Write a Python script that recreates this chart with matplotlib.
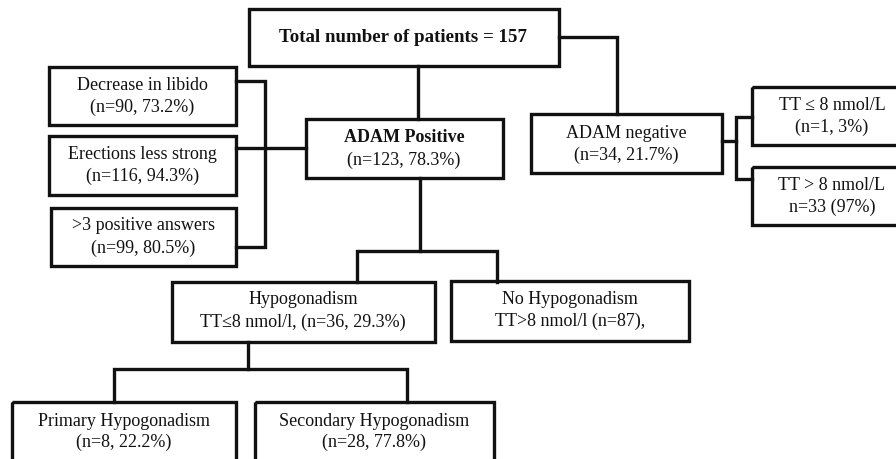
import matplotlib
matplotlib.use("Agg")
import matplotlib.pyplot as plt
from matplotlib.patches import Rectangle

plt.rcParams['font.family'] = ['Liberation Serif', 'DejaVu Serif']

# ---- data ----
total_patients = 157
adam_pos = (123, 78.3)
adam_neg = (34, 21.7)
symptoms = ["Decrease in libido", "Erections less strong", ">3 positive answers"]
symptom_n = [90, 116, 99]
symptom_pct = [73.2, 94.3, 80.5]
neg_tt_low = (1, 3)
neg_tt_high = (33, 97)
hypo = (36, 29.3)
no_hypo_n = 87
sub_labels = ["Primary Hypogonadism", "Secondary Hypogonadism"]
sub_n = [8, 28]
sub_pct = [22.2, 77.8]

W, H = 896, 459
fig = plt.figure(figsize=(W / 100, H / 100), dpi=100)
ax = fig.add_axes([0, 0, 1, 1])
ax.set_xlim(0, W)
ax.set_ylim(H, 0)
ax.axis('off')

LW = 2.4
FS = 13.0
COL = '#111111'


def box(x0, y0, x1, y1):
    ax.add_patch(Rectangle((x0, y0), x1 - x0, y1 - y0, fill=False,
                           edgecolor=COL, linewidth=LW, joinstyle='miter'))


def txt(x, y, s, bold=False, size=FS):
    ax.text(x, y, s, ha='center', va='center', fontsize=size,
            fontweight='bold' if bold else 'normal', color=COL)


def line(xs, ys):
    ax.plot(xs, ys, color=COL, linewidth=LW, solid_capstyle='projecting',
            solid_joinstyle='miter')


# Total
box(249, 9, 559, 66)
txt(403, 38, f"Total number of patients = {total_patients}", bold=True, size=13.6)

# ADAM positive
box(306, 119, 503, 178)
txt(404, 138, "ADAM Positive", bold=True)
txt(404, 160, f"(n={adam_pos[0]}, {adam_pos[1]}%)")

# ADAM negative
box(531, 114, 722, 173)
txt(626, 134, "ADAM negative")
txt(626, 155, f"(n={adam_neg[0]}, {adam_neg[1]}%)")

# connectors from total
line([418, 418], [66, 119])
line([559, 617, 617], [37, 37, 114])

# symptom boxes
sym_boxes = [(49, 67, 236, 125), (49, 136, 236, 195), (51, 208, 236, 266)]
for (x0, y0, x1, y1), lab, n, p in zip(sym_boxes, symptoms, symptom_n, symptom_pct):
    box(x0, y0, x1, y1)
    cx = (x0 + x1) / 2
    cy = (y0 + y1) / 2
    txt(cx, cy - 11, lab)
    txt(cx, cy + 11, f"(n={n}, {p}%)")

line([236, 265, 265, 236], [81, 81, 247, 247])
line([236, 306], [148, 148])

# ADAM negative branches
line([722, 736], [141, 141])
line([752, 736, 736, 752], [117, 117, 179, 179])
box(752, 87, 915, 145)
txt(832, 106, "TT \u2264 8 nmol/L")
txt(832, 127, f"(n={neg_tt_low[0]}, {neg_tt_low[1]}%)")
box(752, 167, 915, 225)
txt(832, 186, "TT > 8 nmol/L")
txt(832, 207, f"n={neg_tt_high[0]} ({neg_tt_high[1]}%)")

# hypogonadism split
line([420, 420], [178, 251])
line([357, 357, 497, 497], [282, 251, 251, 282])
box(172, 282, 435, 342)
txt(303, 300, "Hypogonadism")
txt(303, 322, f"TT\u22648 nmol/l, (n={hypo[0]}, {hypo[1]}%)")
box(451, 281, 689, 341)
txt(570, 300, "No Hypogonadism")
txt(570, 321, f"TT>8 nmol/l (n={no_hypo_n}),")

# primary / secondary
line([248, 248], [342, 369])
line([114, 114, 407, 407], [402, 369, 369, 402])
sub_boxes = [(12, 402, 236, 470), (255, 402, 494, 470)]
for (x0, y0, x1, y1), lab, n, p in zip(sub_boxes, sub_labels, sub_n, sub_pct):
    box(x0, y0, x1, y1)
    cx = (x0 + x1) / 2
    txt(cx, 421, lab)
    txt(cx, 442, f"(n={n}, {p}%)")

fig.savefig("out.png", dpi=100)
